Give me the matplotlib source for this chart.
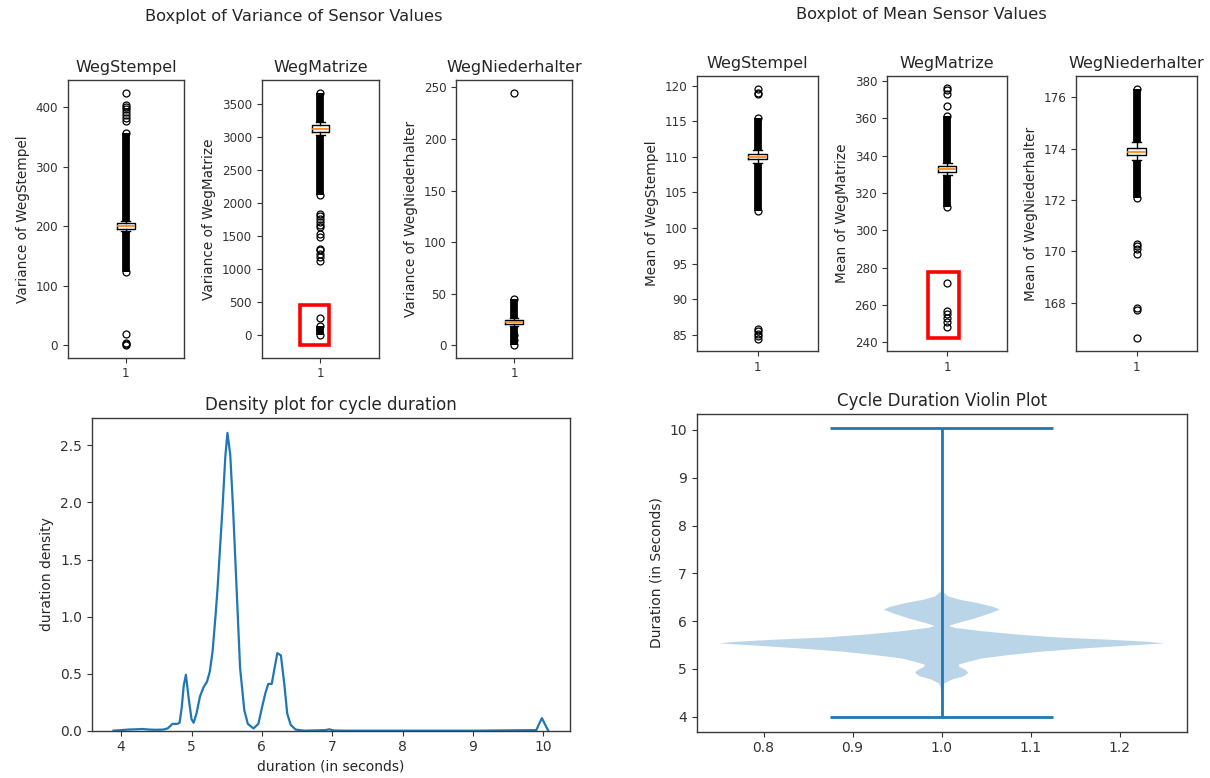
import matplotlib
matplotlib.use('Agg')
import matplotlib.pyplot as plt
from matplotlib.patches import Rectangle
import numpy as np

plt.rcParams['font.family'] = ['DejaVu Sans']
TXT = '#262626'
plt.rcParams['text.color'] = TXT
plt.rcParams['axes.labelcolor'] = TXT
plt.rcParams['xtick.color'] = '#333333'
plt.rcParams['ytick.color'] = '#333333'

# ---------------- data ----------------
sensor_names = ['WegStempel', 'WegMatrize', 'WegNiederhalter']

# variance boxplots: box statistics
var_med = [200, 3130, 22]
var_q1 = [196, 3090, 20.5]
var_q3 = [205, 3190, 24]
var_whislo = [192, 3045, 18.5]
var_whishi = [209, 3240, 26]
# isolated outliers
var_fliers = [
    [0, 2, 4, 18, 123, 357, 378, 383, 388, 393, 398, 401, 404, 425],
    [0, 150, 268, 1122, 1195, 1240, 1290, 1312, 1490, 1531, 1650, 1677, 1720, 1760, 1810, 1847, 2125, 3680],
    [0, 5, 10, 45, 245],
]
# dense runs of outliers (low, high)
var_bands = [
    [(123, 192), (209, 357)],
    [(0, 150), (2125, 3045), (3240, 3680)],
    [(0, 18.5), (26, 45)],
]

# mean boxplots
mean_med = [110.0, 332.7, 173.89]
mean_q1 = [109.7, 331.2, 173.76]
mean_q3 = [110.4, 334.2, 174.03]
mean_whislo = [109.2, 329.8, 173.55]
mean_whishi = [110.9, 335.8, 174.25]
mean_fliers = [
    [84.5, 84.8, 85.1, 85.5, 85.8, 102.4, 115.5, 118.8, 119.0, 119.6],
    [248, 251, 253, 255, 257, 271.5, 312.5, 361.5, 366.5, 373, 375, 376],
    [166.6, 167.7, 167.8, 169.9, 170.1, 170.2, 170.3, 172.06, 176.35],
]
mean_bands = [
    [(102.4, 109.2), (110.9, 115.5)],
    [(312.5, 329.8), (335.8, 361.5)],
    [(172.06, 173.55), (174.25, 176.35)],
]

# annotation rectangles (x0, x1, y0, y1) in data units
var_red_box = (0.83, 1.07, -146, 462)
mean_red_box = (0.84, 1.10, 242, 277.6)

# density curve of cycle duration
density_x = [3.89, 4.0, 4.1, 4.2, 4.3, 4.4, 4.5, 4.6, 4.66, 4.73, 4.80, 4.83, 4.86,
             4.89, 4.92, 4.96, 5.0, 5.03, 5.07, 5.12, 5.17, 5.22, 5.26, 5.30, 5.34,
             5.37, 5.40, 5.44, 5.48, 5.51, 5.55, 5.59, 5.64, 5.69, 5.75, 5.80,
             5.88, 5.95, 6.0, 6.05, 6.09, 6.14, 6.18, 6.22, 6.27, 6.32, 6.36, 6.41,
             6.48, 6.6, 6.9, 6.96, 7.02, 7.2, 8.0, 9.0, 9.9, 9.94, 9.98, 10.02, 10.07]
density_y = [0.0, 0.005, 0.01, 0.012, 0.015, 0.01, 0.008, 0.01, 0.02, 0.06, 0.06, 0.07, 0.2,
             0.40, 0.49, 0.28, 0.10, 0.07, 0.15, 0.30, 0.38, 0.43, 0.52, 0.70, 1.00,
             1.25, 1.55, 1.95, 2.40, 2.61, 2.42, 1.95, 1.25, 0.55, 0.18, 0.06,
             0.02, 0.06, 0.20, 0.33, 0.41, 0.41, 0.55, 0.68, 0.66, 0.40, 0.15, 0.05,
             0.01, 0.0, 0.005, 0.012, 0.002, 0.0, 0.0, 0.0, 0.005, 0.06, 0.11, 0.06, 0.0]

# violin profile (duration, relative half width)
violin_y = [3.99, 4.3, 4.6, 4.70, 4.78, 4.85, 4.92, 4.98, 5.04, 5.09, 5.15, 5.22, 5.29,
            5.36, 5.43, 5.49, 5.535, 5.57, 5.61, 5.66, 5.72, 5.79, 5.86, 5.90, 5.96,
            6.05, 6.16, 6.24, 6.30, 6.38, 6.45, 6.52, 6.62, 6.8, 7.5, 9.0, 9.9, 10.03]
violin_w = [0.0003, 0.0005, 0.001, 0.003, 0.012, 0.025, 0.030, 0.027, 0.020, 0.019,
            0.030, 0.045, 0.075, 0.11, 0.16, 0.21, 0.25, 0.23, 0.19, 0.13, 0.085, 0.045,
            0.015, 0.008, 0.018, 0.036, 0.054, 0.065, 0.058, 0.040, 0.020, 0.007,
            0.001, 0.0005, 0.0002, 0.0001, 0.0002, 0.0003]
violin_min = 3.99
violin_max = 10.03
violin_median = 5.53

# ---------------- figure ----------------
W, H = 1210, 778
fig = plt.figure(figsize=(W / 100, H / 100), dpi=100)


def px_axes(x0, x1, y0, y1):
    return fig.add_axes([x0 / W, (H - y1) / H, (x1 - x0) / W, (y1 - y0) / H])


def style(ax, ticksize):
    for s in ax.spines.values():
        s.set_color('#3a3a3a')
        s.set_linewidth(1.0)
    ax.tick_params(labelsize=ticksize)


flierprops = dict(marker='o', markersize=5, markerfacecolor='none',
                  markeredgecolor='black', markeredgewidth=0.9, linestyle='none')


def draw_box(ax, med, q1, q3, lo, hi, fliers, bands, name, label):
    stats = [dict(med=med, q1=q1, q3=q3, whislo=lo, whishi=hi,
                  fliers=np.array(fliers), label='1')]
    for a, b in bands:
        ax.vlines(1, a, b, colors='black', linewidth=5.6, zorder=2)
    ax.bxp(stats, positions=[1], widths=0.15, flierprops=flierprops,
           medianprops=dict(color='#ff7f0e', linewidth=1.2),
           boxprops=dict(color='black', linewidth=1.0),
           whiskerprops=dict(color='black', linewidth=1.0),
           capprops=dict(color='black', linewidth=1.0))
    ax.set_title(name, fontsize=11.5, color=TXT)
    ax.set_ylabel(label, fontsize=9.8)
    style(ax, 8.6)


var_x = [(67.7, 184), (261.7, 379), (456, 572)]
for i, (x0, x1) in enumerate(var_x):
    ax = px_axes(x0, x1, 80, 357.7)
    draw_box(ax, var_med[i], var_q1[i], var_q3[i], var_whislo[i], var_whishi[i],
             var_fliers[i], var_bands[i], sensor_names[i], 'Variance of ' + sensor_names[i])
    if i == 1:
        x0r, x1r, y0r, y1r = var_red_box
        ax.add_patch(Rectangle((x0r, y0r), x1r - x0r, y1r - y0r, fill=False,
                               edgecolor='red', linewidth=2.6, zorder=5))

mean_x = [(697, 818), (887, 1007), (1076, 1197)]
for i, (x0, x1) in enumerate(mean_x):
    ax = px_axes(x0, x1, 76, 351)
    draw_box(ax, mean_med[i], mean_q1[i], mean_q3[i], mean_whislo[i], mean_whishi[i],
             mean_fliers[i], mean_bands[i], sensor_names[i], 'Mean of ' + sensor_names[i])
    if i == 1:
        x0r, x1r, y0r, y1r = mean_red_box
        ax.add_patch(Rectangle((x0r, y0r), x1r - x0r, y1r - y0r, fill=False,
                               edgecolor='red', linewidth=2.6, zorder=5))

fig.text(294 / W, 1 - 17 / H, 'Boxplot of Variance of Sensor Values', ha='center',
         va='center', fontsize=11.7, color=TXT)
fig.text(921 / W, 1 - 15 / H, 'Boxplot of Mean Sensor Values', ha='center',
         va='center', fontsize=11.7, color=TXT)

# density plot
ax = px_axes(91.7, 570, 418, 730.7)
ax.plot(density_x, density_y, color='#1f77b4', linewidth=1.6)
ax.set_ylim(bottom=0)
ax.set_title('Density plot for cycle duration', fontsize=12, color=TXT)
ax.set_xlabel('duration (in seconds)', fontsize=10)
ax.set_ylabel('duration density', fontsize=10)
style(ax, 10)

# violin plot
ax = px_axes(696.7, 1186.7, 414, 731.7)
vp = ax.violin([dict(coords=np.array(violin_y), vals=np.array(violin_w),
                     mean=violin_median, median=violin_median,
                     min=violin_min, max=violin_max)],
               positions=[1], widths=0.5, showextrema=True)
for b in vp['bodies']:
    b.set_facecolor('#1f77b4')
    b.set_edgecolor('none')
    b.set_alpha(0.3)
for k in ('cmins', 'cmaxes', 'cbars'):
    vp[k].set_color('#1f77b4')
    vp[k].set_linewidth(2.0)
ax.set_title('Cycle Duration Violin Plot', fontsize=12, color=TXT)
ax.set_ylabel('Duration (in Seconds)', fontsize=10)
style(ax, 10)

fig.savefig('out.png', dpi=100)
